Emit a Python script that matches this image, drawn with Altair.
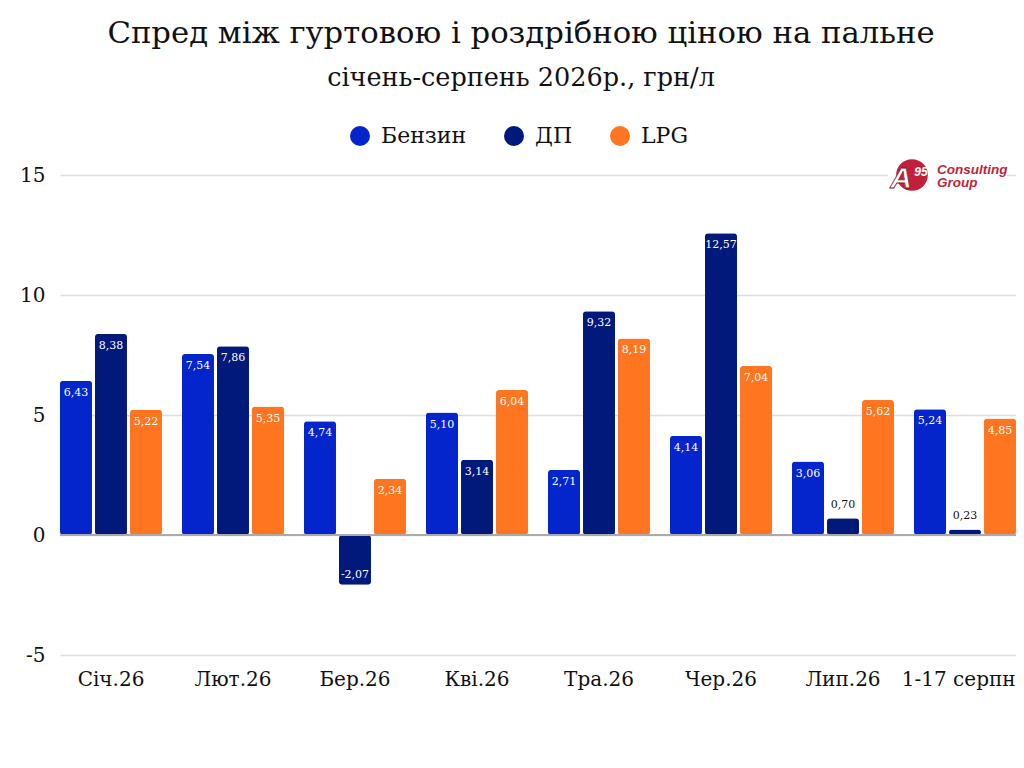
import altair as alt
import pandas as pd

# Values
months = ["Січ.26", "Лют.26", "Бер.26", "Кві.26", "Тра.26", "Чер.26", "Лип.26", "1-17 серпня"]
benzyn = [6.43, 7.54, 4.74, 5.10, 2.71, 4.14, 3.06, 5.24]
dp = [8.38, 7.86, -2.07, 3.14, 9.32, 12.57, 0.70, 0.23]
lpg = [5.22, 5.35, 2.34, 6.04, 8.19, 7.04, 5.62, 4.85]

series = ["Бензин", "ДП", "LPG"]
colours = ["#0424CC", "#00197A", "#FF7520"]

rows = []
for i, m in enumerate(months):
    for s, vals in zip(series, [benzyn, dp, lpg]):
        v = vals[i]
        rows.append({"month": m, "series": s, "value": v,
                     "label": f"{v:.2f}".replace(".", ",")})
df = pd.DataFrame(rows)

FONT = "DejaVu Serif"
RED = "#C21F3A"
W, H = 956, 480

x_axis = alt.Axis(labelFontSize=20, labelColor="#111", labelFont=FONT, grid=False,
                  ticks=False, domain=False, labelPadding=14, labelAngle=0)
y_axis = alt.Axis(values=[-5, 0, 5, 10, 15], labelFontSize=20, labelColor="#111",
                  labelFont=FONT, ticks=False, domain=False, labelPadding=15,
                  labelExpr="'' + datum.value",
                  gridColor="#dddddd", gridWidth=1.5)
y_scale = alt.Scale(domain=[-5, 15], nice=False)

x_enc = alt.X("month:N", sort=months, title=None, axis=x_axis,
              scale=alt.Scale(paddingInner=0.164, paddingOuter=0))
xo_enc = alt.XOffset("series:N", sort=series,
                     scale=alt.Scale(paddingInner=0.086, paddingOuter=0))
y_enc = alt.Y("value:Q", scale=y_scale, title=None, axis=y_axis)

base = alt.Chart(df)

bars = base.mark_bar(cornerRadius=3).encode(
    x=x_enc,
    xOffset=xo_enc,
    y=y_enc,
    color=alt.Color("series:N", sort=series,
                    scale=alt.Scale(domain=series, range=colours),
                    legend=alt.Legend(title=None, orient="none", direction="horizontal",
                                      legendX=289, legendY=-50, symbolType="circle",
                                      symbolSize=400, symbolOpacity=1, labelFontSize=22,
                                      labelFont=FONT, labelColor="#111", columnPadding=36,
                                      labelOffset=10)),
)

zero = alt.Chart(pd.DataFrame({"value": [0]})).mark_rule(color="#aaaaaa", strokeWidth=2).encode(
    y=y_enc
)

lab_in = base.transform_filter("datum.value >= 1").mark_text(
    baseline="top", dy=6, fontSize=11, font=FONT, color="white"
).encode(x=x_enc, xOffset=xo_enc, y=y_enc, text="label:N")

lab_neg = base.transform_filter("datum.value < 0").mark_text(
    baseline="bottom", dy=-5, fontSize=11, font=FONT, color="white"
).encode(x=x_enc, xOffset=xo_enc, y=y_enc, text="label:N")

lab_small = base.transform_filter("datum.value >= 0 && datum.value < 1").mark_text(
    baseline="bottom", dy=-8, fontSize=11, font=FONT, color="#111"
).encode(x=x_enc, xOffset=xo_enc, y=y_enc, text="label:N")

# A95 Consulting Group logo in the upper right corner
one = pd.DataFrame({"k": [0]})
logo_bg = alt.Chart(one).mark_rect(color="white").encode(
    x=alt.value(828), x2=alt.value(947), y=alt.value(-22), y2=alt.value(22))
logo_circle = alt.Chart(one).mark_point(shape="circle", filled=True, color=RED,
                                         size=1000, opacity=1).encode(
    x=alt.value(852), y=alt.value(0))
logo_a = alt.Chart(one).mark_text(text="A", font="Liberation Sans", fontSize=30, fontWeight="bold",
                                  fontStyle="italic", color="white", stroke="#8a1226",
                                  strokeWidth=0.8, baseline="alphabetic").encode(
    x=alt.value(841), y=alt.value(13))
logo_95 = alt.Chart(one).mark_text(text="95", font="Liberation Sans", fontSize=12, fontWeight="bold",
                                   fontStyle="italic", color="white").encode(
    x=alt.value(861), y=alt.value(-3))
logo_t1 = alt.Chart(one).mark_text(text="Consulting", font="Liberation Sans", fontSize=13.5,
                                   fontStyle="italic", fontWeight="bold", color=RED,
                                   align="left", baseline="alphabetic").encode(
    x=alt.value(877), y=alt.value(-1))
logo_t2 = alt.Chart(one).mark_text(text="Group", font="Liberation Sans", fontSize=13.5,
                                   fontStyle="italic", fontWeight="bold", color=RED,
                                   align="left", baseline="alphabetic").encode(
    x=alt.value(877), y=alt.value(12))

chart = alt.layer(
    bars, zero, lab_in, lab_neg, lab_small,
    logo_bg, logo_circle, logo_a, logo_95, logo_t1, logo_t2
).properties(
    width=W, height=H,
    autosize=alt.AutoSizeParams(type="none"),
    padding={"left": 52, "top": 167, "right": 0, "bottom": 80},
    view=alt.ViewBackground(stroke="transparent", strokeWidth=0),
    title=alt.TitleParams(
        "Спред між гуртовою і роздрібною ціною на пальне",
        subtitle="січень-серпень 2026р., грн/л",
        font=FONT, fontSize=30.7, fontWeight="normal", color="#111",
        subtitleFont=FONT, subtitleFontSize=25.5, subtitleColor="#111", subtitlePadding=16,
        anchor="middle", dx=-17, offset=33,
    ),
).configure_view(stroke="transparent", strokeWidth=0).configure_axis(
    domain=False, ticks=False
).configure_axisY(domain=False).configure(background="white")

chart.save("out.html", embed_options={"renderer": "svg", "actions": False})
